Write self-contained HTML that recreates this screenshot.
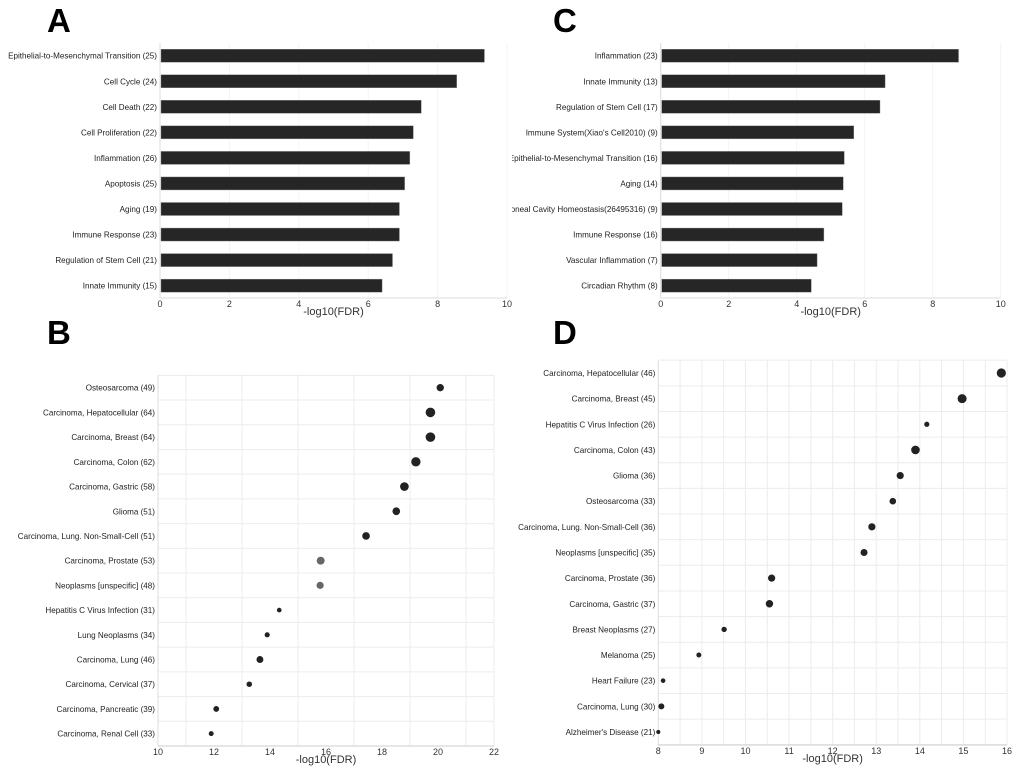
<!DOCTYPE html>
<html><head><meta charset="utf-8"><style>
html,body{margin:0;padding:0;background:#fff;}
svg{display:block;font-family:"Liberation Sans",sans-serif;}
</style></head><body>
<svg id="s" width="1020" height="773" viewBox="0 0 1020 773">
<defs><clipPath id="clipC"><rect x="512" y="0" width="508" height="330"/></clipPath></defs>
<text x="47" y="32" font-size="33" font-weight="bold">A</text>
<text x="47" y="344" font-size="33" font-weight="bold">B</text>
<text x="553" y="32" font-size="33" font-weight="bold">C</text>
<text x="553" y="344" font-size="33" font-weight="bold">D</text>
<g id="pA"></g>
<g id="pC"></g>
<g id="pB"></g>
<g id="pD"></g>
</svg>
<script>
const catsA=["Epithelial-to-Mesenchymal Transition (25)","Cell Cycle (24)","Cell Death (22)","Cell Proliferation (22)","Inflammation (26)","Apoptosis (25)","Aging (19)","Immune Response (23)","Regulation of Stem Cell (21)","Innate Immunity (15)"];
const valsA=[9.35,8.55,7.53,7.3,7.2,7.05,6.9,6.9,6.7,6.4];
const catsC=["Inflammation (23)","Innate Immunity (13)","Regulation of Stem Cell (17)","Immune System(Xiao's Cell2010) (9)","Epithelial-to-Mesenchymal Transition (16)","Aging (14)","Peritoneal Cavity Homeostasis(26495316) (9)","Immune Response (16)","Vascular Inflammation (7)","Circadian Rhythm (8)"];
const valsC=[8.76,6.6,6.45,5.68,5.4,5.37,5.34,4.8,4.6,4.43];
const barTicks=[0,2,4,6,8,10];
const catsB=["Osteosarcoma (49)","Carcinoma, Hepatocellular (64)","Carcinoma, Breast (64)","Carcinoma, Colon (62)","Carcinoma, Gastric (58)","Glioma (51)","Carcinoma, Lung. Non-Small-Cell (51)","Carcinoma, Prostate (53)","Neoplasms [unspecific] (48)","Hepatitis C Virus Infection (31)","Lung Neoplasms (34)","Carcinoma, Lung (46)","Carcinoma, Cervical (37)","Carcinoma, Pancreatic (39)","Carcinoma, Renal Cell (33)"];
const valsB=[20.08,19.73,19.73,19.21,18.8,18.51,17.43,15.81,15.79,14.33,13.9,13.64,13.26,12.08,11.9];
const countsB=[49,64,64,62,58,51,51,53,48,31,34,46,37,39,33];
const greyB=[0,0,0,0,0,0,0,1,1,0,0,0,0,0,0];
const ticksB=[10,12,14,16,18,20,22];
const catsD=["Carcinoma, Hepatocellular (46)","Carcinoma, Breast (45)","Hepatitis C Virus Infection (26)","Carcinoma, Colon (43)","Glioma (36)","Osteosarcoma (33)","Carcinoma, Lung. Non-Small-Cell (36)","Neoplasms [unspecific] (35)","Carcinoma, Prostate (36)","Carcinoma, Gastric (37)","Breast Neoplasms (27)","Melanoma (25)","Heart Failure (23)","Carcinoma, Lung (30)","Alzheimer's Disease (21)"];
const valsD=[15.87,14.97,14.16,13.9,13.55,13.38,12.9,12.72,10.6,10.55,9.51,8.93,8.11,8.07,8.0];
const countsD=[46,45,26,43,36,33,36,35,36,37,27,25,23,30,21];
const ticksD=[8,9,10,11,12,13,14,15,16];
const NS="http://www.w3.org/2000/svg";
const FS=8.1;
function mk(p,t,a,txt){const e=document.createElementNS(NS,t);for(const k in a)e.setAttribute(k,a[k]);if(txt!==undefined)e.textContent=txt;p.appendChild(e);return e;}

function barChart(g,cats,vals,x0,x1,clip){
  const xs=v=>x0+(v-0)/(10-0)*(x1-x0);
  const ys=i=>55.7+i*25.55;
  for(const t of barTicks){
    const l=mk(g,'line',{x1:xs(t),x2:xs(t),y1:43,y2:298,stroke:'#f4f4f4','stroke-width':1});
    
    
    const tx=mk(g,'text',{x:xs(t),y:307,'font-size':9,'text-anchor':'middle',fill:'#333'},t);
    
    
  }
  const ax=mk(g,'line',{x1:x0,x2:x0,y1:43,y2:298,stroke:'#ddd'});
  
  
  const bx=mk(g,'line',{x1:x0,x2:x1,y1:298,y2:298,stroke:'#ddd'});
  
  
  const tt=mk(g,'text',{x:(x0+x1)/2,y:315,'font-size':11,'text-anchor':'middle',fill:'#333'},'-log10(FDR)');
  
  
  const lg=mk(g,'g',clip?{'clip-path':'url(#'+clip+')'}:{});
  cats.forEach((c,i)=>{
    const r=mk(g,'rect',{x:x0+1,y:ys(i)-6.5,width:xs(vals[i])-x0-1,height:13,fill:'#262626',stroke:'#888','stroke-width':0.4});
    
    
    const t=mk(lg,'text',{x:x0-3,y:ys(i)+3,'font-size':FS,'text-anchor':'end',fill:'#222'},c);
    
    
  });
}
barChart(document.getElementById('pA'),catsA,valsA,160,507,null);
barChart(document.getElementById('pC'),catsC,valsC,660.7,1000.7,'clipC');

function dotChart(g,cats,vals,counts,grey,ticks,x0,x1,lo,hi,yTop,yBot,y0,dy,rf,gStart,gridStep){
  const xs=v=>x0+(v-lo)/(hi-lo)*(x1-x0);
  const ys=i=>y0+i*dy;
  for(let v=gStart;v<=hi+1e-9;v+=gridStep){
    const l=mk(g,'line',{x1:xs(v),x2:xs(v),y1:yTop,y2:yBot,stroke:'#ececec'});
    
    
  }
  const rb=mk(g,'line',{x1:x1,x2:x1,y1:yTop,y2:yBot,stroke:'#ececec'});
  
  
  for(let i=0;i<=cats.length;i++){
    const y=ys(i)-dy/2;
    const l=mk(g,'line',{x1:x0,x2:x1,y1:y,y2:y,stroke:'#ececec'});
    
    
  }
  const ax=mk(g,'line',{x1:x0,x2:x0,y1:yTop,y2:yBot,stroke:'#ddd'});
  
  
  const bx=mk(g,'line',{x1:x0,x2:x1,y1:yBot,y2:yBot,stroke:'#ccc'});
  
  
  for(const t of ticks){
    const tx=mk(g,'text',{x:xs(t),y:yBot+9,'font-size':9,'text-anchor':'middle',fill:'#333'},t);
    
    
  }
  const tt=mk(g,'text',{x:(x0+x1)/2,y:yBot+17,'font-size':11,'text-anchor':'middle',fill:'#333'},'-log10(FDR)');
  
  
  cats.forEach((c,i)=>{
    const t=mk(g,'text',{x:x0-3,y:ys(i)+3,'font-size':FS,'text-anchor':'end',fill:'#222'},c);
    
    
    const d=mk(g,'circle',{cx:xs(vals[i]),cy:ys(i),r:counts[i]*rf,fill:grey&&grey[i]?'#666':'#222'});
    
    
  });
}
dotChart(document.getElementById('pB'),catsB,valsB,countsB,greyB,ticksB,158,494,10,22,375,746,387.7,24.71,0.075,11,2);
dotChart(document.getElementById('pD'),catsD,valsD,countsD,null,ticksD,658.3,1007,8,16,360.7,745,373,25.64,0.1,8.5,0.5);
</script>
</body></html>
